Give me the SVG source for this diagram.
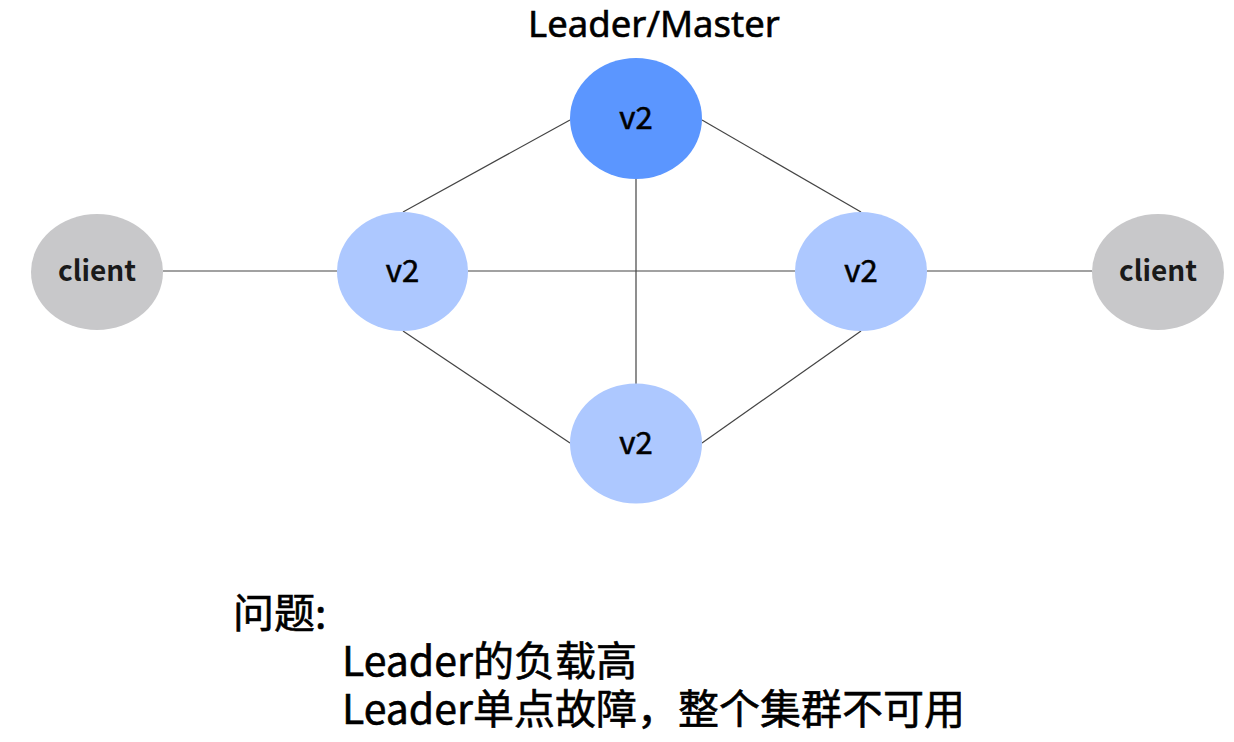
<svg xmlns="http://www.w3.org/2000/svg" width="1234" height="742" viewBox="0 0 1234 742">
<style>
text{font-family:"Noto Sans CJK SC","Noto Sans",sans-serif;fill:#000;font-weight:400}
.heavy{stroke:#000;stroke-width:0.6}
.edge{stroke:#444;stroke-width:1.2;fill:none}
.leader{fill:#5B96FF}
.follower{fill:#ADC8FF}
.client{fill:#C8C8CA}
.v{font-size:31px;text-anchor:middle}
.c{font-size:28px;font-weight:bold;text-anchor:middle;fill:#1a1a1a}
.t{font-size:41px}
</style>
<rect width="1234" height="742" fill="#fff"/>
<g id="connectors">
<line class="edge" x1="570" y1="120" x2="403" y2="212"/>
<line class="edge" x1="702" y1="120" x2="861" y2="212"/>
<line class="edge" x1="403" y1="331" x2="570" y2="443"/>
<line class="edge" x1="702" y1="443" x2="861" y2="331"/>
<line class="edge" x1="636" y1="179" x2="636" y2="384"/>
<line class="edge" x1="468" y1="271" x2="795" y2="271"/>
<line class="edge" x1="163" y1="271" x2="337" y2="271"/>
<line class="edge" x1="927" y1="271" x2="1092" y2="271"/>
</g>
<g id="leader-label"><text class="heavy" x="654" y="37" style="font-size:36.5px;font-family:'Noto Sans',sans-serif" text-anchor="middle">Leader/Master</text></g>
<g id="node-top"><ellipse class="leader" cx="636" cy="118.5" rx="66" ry="60.5"/><text class="v heavy" x="636" y="129">v2</text></g>
<g id="node-left"><ellipse class="follower" cx="402.5" cy="271.5" rx="65.5" ry="59.5"/><text class="v heavy" x="402.5" y="282">v2</text></g>
<g id="node-right"><ellipse class="follower" cx="861" cy="271.5" rx="66" ry="59.5"/><text class="v heavy" x="861" y="282">v2</text></g>
<g id="node-bottom"><ellipse class="follower" cx="636" cy="443.5" rx="66" ry="60"/><text class="v heavy" x="636" y="454">v2</text></g>
<g id="client-left"><ellipse class="client" cx="97" cy="272" rx="66" ry="58"/><text class="c" x="97" y="281">client</text></g>
<g id="client-right"><ellipse class="client" cx="1158" cy="272" rx="66" ry="58"/><text class="c" x="1158" y="281">client</text></g>
<g id="notes">
<text class="t heavy" x="233" y="628">问题:</text>
<text class="t heavy" x="342" y="676">Leader的负载高</text>
<text class="t heavy" x="342" y="724">Leader单点故障，整个集群不可用</text>
</g>
</svg>
